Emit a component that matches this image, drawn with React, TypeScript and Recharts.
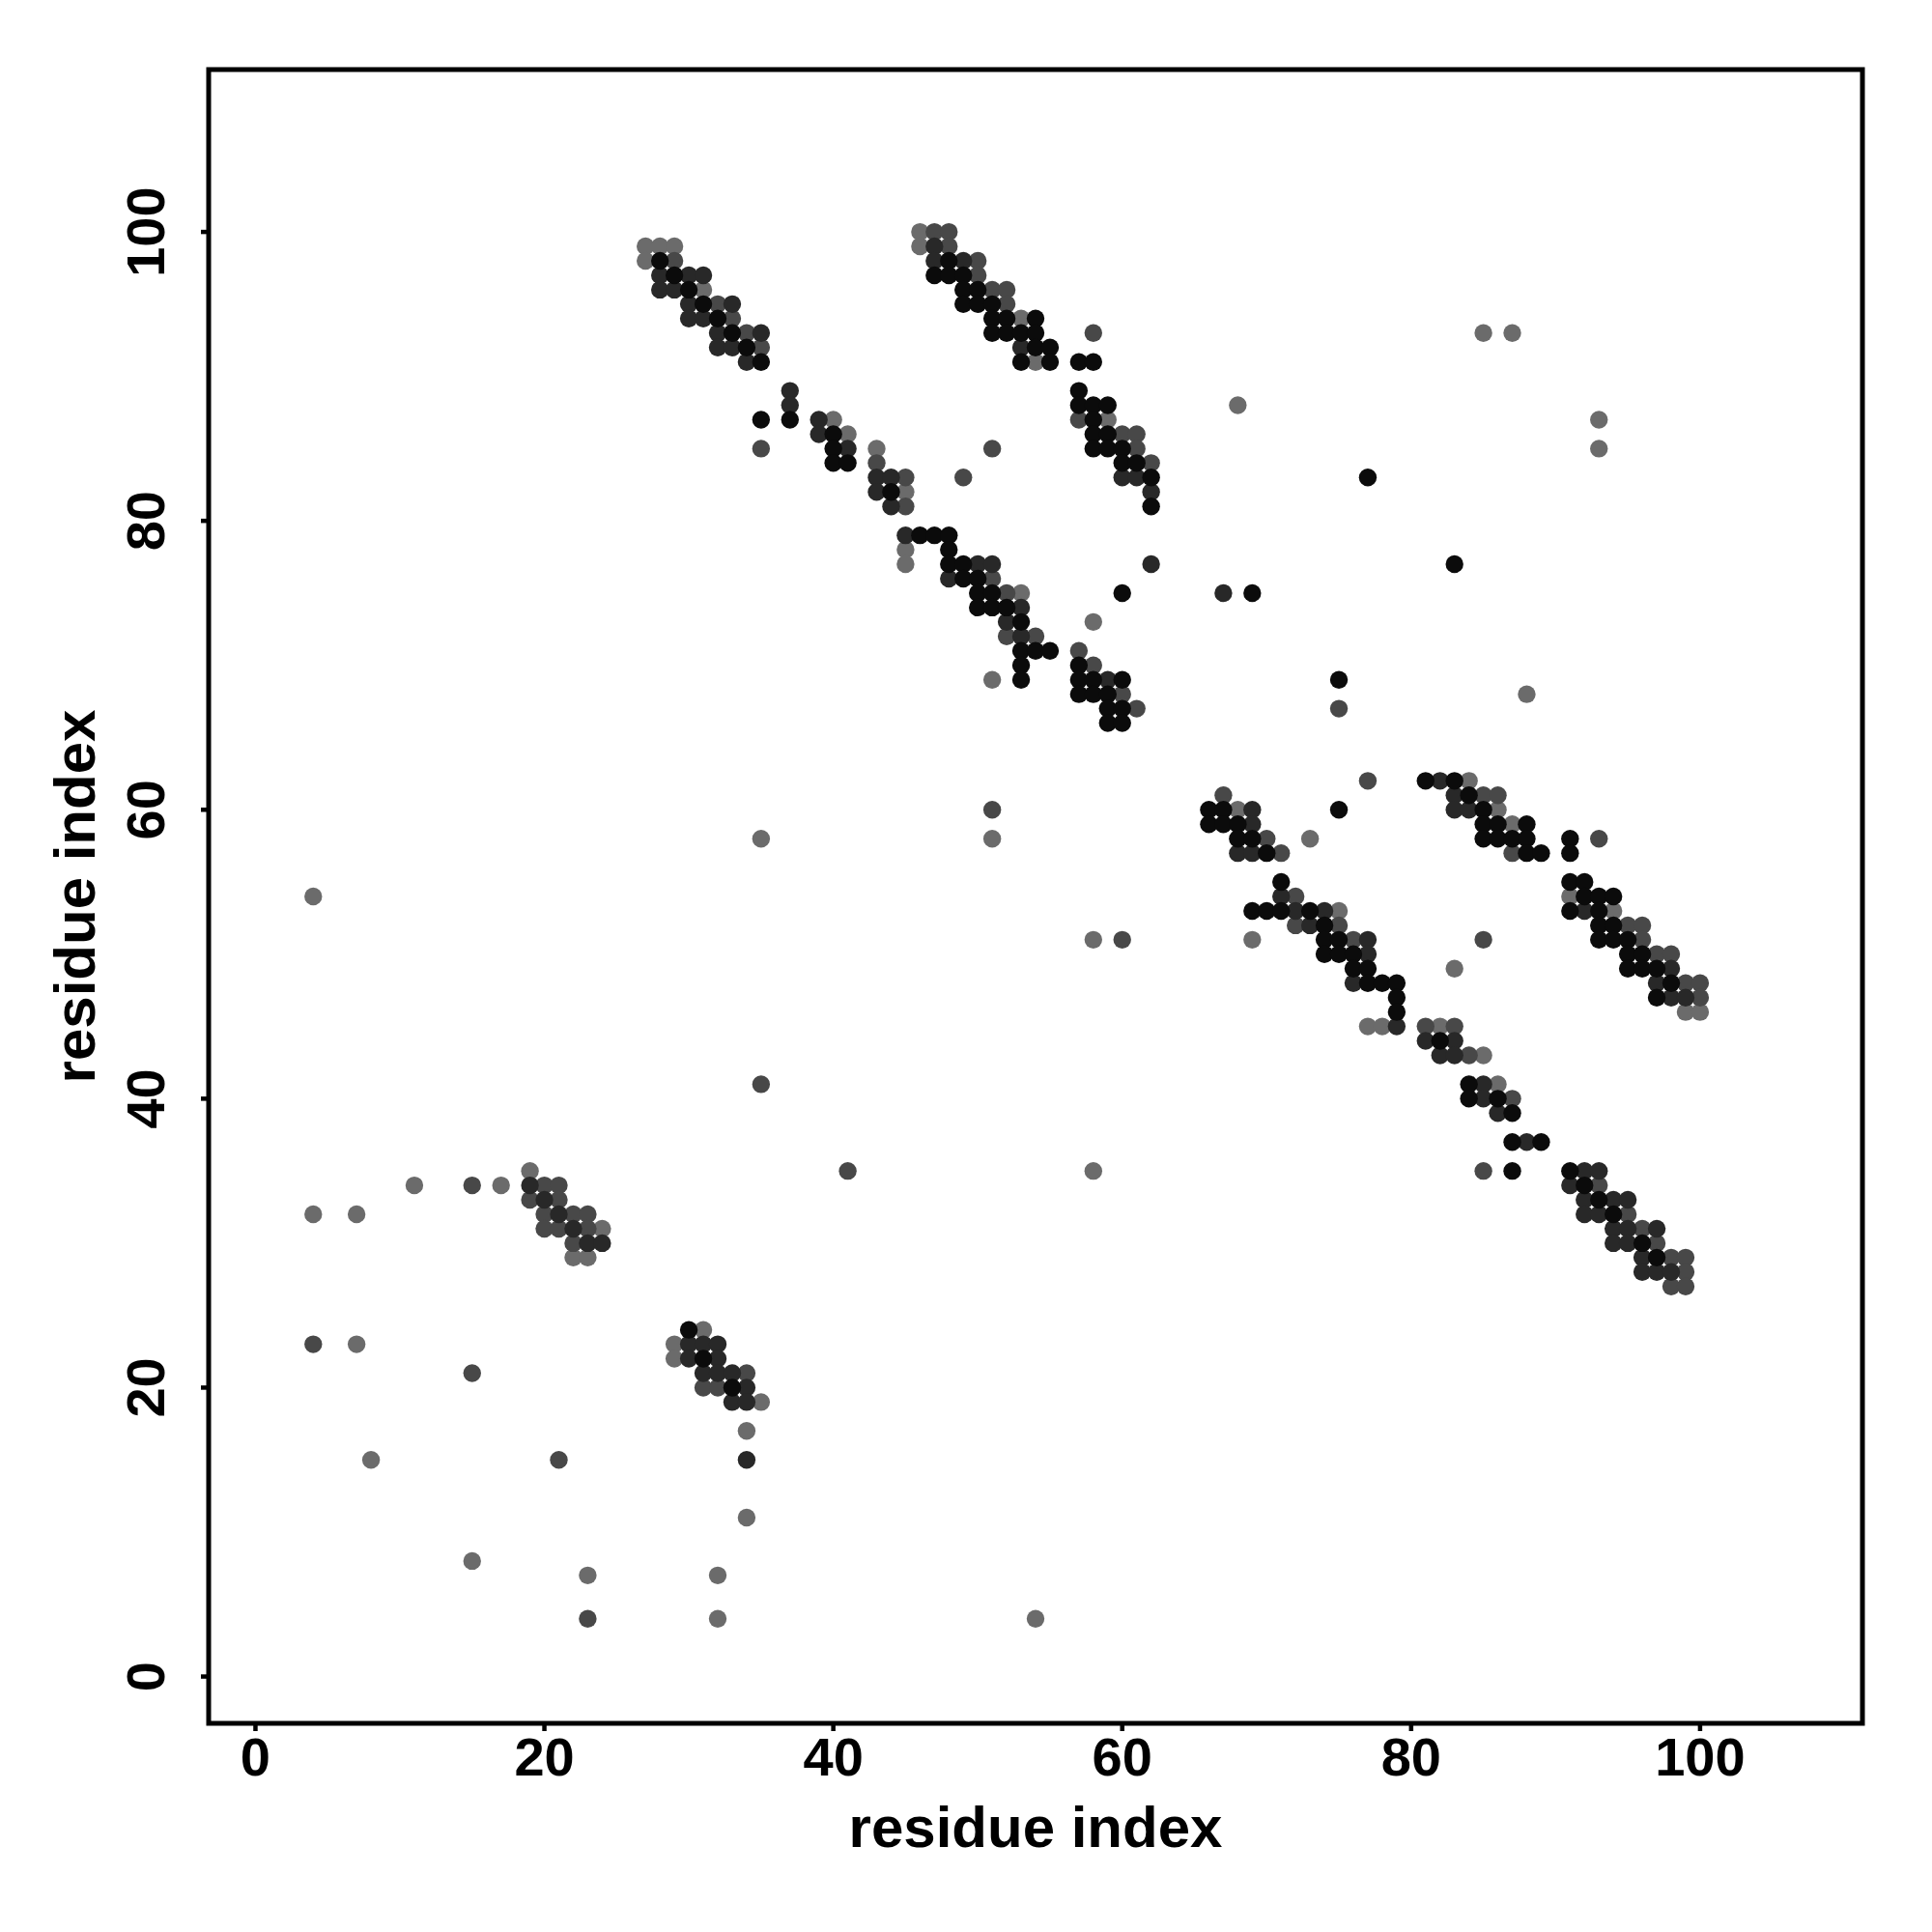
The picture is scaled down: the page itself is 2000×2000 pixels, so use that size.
import React from 'react';
import { ScatterChart, Scatter, XAxis, YAxis, ReferenceArea, Label } from 'recharts';

type P = [number, number];

// Contact map points grouped by grey shade (x = residue, y = residue)
const lightPoints: P[] = [
  [27, 99], [28, 99], [29, 99], [27, 98], [31, 96], [40, 87], [41, 86], [43, 85], [45, 82],
  [45, 78], [45, 77], [53, 75], [58, 73], [51, 69],
  [46, 100], [46, 99], [53, 94], [54, 91], [59, 87],
  [68, 60], [73, 58], [75, 53], [69, 51], [83, 49], [77, 45], [78, 45], [82, 45],
  [84, 62], [86, 60], [87, 59], [91, 54], [94, 53], [99, 46], [100, 46],
  [85, 43], [86, 41],
  [19, 35], [11, 34], [17, 34], [4, 32], [7, 32], [24, 31], [22, 29], [23, 29], [31, 24], [7, 23], [29, 23], [29, 22], [35, 19],
  [34, 17], [8, 15], [34, 11], [15, 8], [23, 7], [32, 7], [32, 4], [54, 4],
  [4, 54], [35, 58], [51, 58], [58, 51], [58, 35], [68, 88], [88, 68], [85, 93], [87, 93], [93, 87], [93, 85],
];

const midPoints: P[] = [
  [29, 98], [32, 95], [33, 94], [34, 93], [35, 92], [45, 83], [43, 84], [45, 81], [35, 85],
  [51, 76], [52, 75], [52, 72], [54, 72], [57, 71], [58, 70], [60, 68], [61, 67],
  [47, 100], [48, 100], [48, 99], [50, 98], [50, 97], [51, 96], [52, 96], [52, 95], [58, 93], [57, 87], [60, 86], [61, 86], [51, 85], [61, 85], [62, 84], [49, 83],
  [77, 62], [67, 61], [70, 58], [71, 57], [72, 54], [72, 52], [75, 52], [76, 51], [81, 45], [83, 45],
  [85, 61], [86, 61], [93, 58], [87, 57], [95, 52], [96, 52], [85, 51], [96, 51], [97, 50], [98, 50], [99, 48], [100, 48], [100, 47],
  [84, 43], [87, 40], [85, 35], [93, 34], [95, 32], [96, 31], [97, 30], [98, 29], [99, 29], [99, 28], [98, 27], [99, 27],
  [15, 34], [20, 34], [21, 34], [19, 33], [21, 33], [20, 32], [22, 32], [23, 32], [20, 31], [21, 31], [23, 31], [22, 30],
  [4, 23], [15, 21], [34, 21], [31, 20], [32, 20], [21, 15], [23, 4],
  [35, 41], [41, 35], [51, 60], [60, 51], [75, 67],
];

const darkPoints: P[] = [
  [30, 97], [31, 97], [28, 97], [28, 96], [29, 96], [30, 95], [33, 95], [30, 94], [31, 94], [32, 93], [35, 93], [32, 92], [33, 92], [34, 91],
  [37, 89], [37, 88], [39, 87], [39, 86], [41, 85], [43, 83], [44, 83], [43, 82], [44, 81],
  [45, 79], [50, 77], [51, 77], [62, 77], [48, 76], [53, 74], [52, 73], [53, 72], [59, 69],
  [47, 99], [47, 98], [49, 98], [53, 92], [60, 83], [61, 83], [62, 82],
  [82, 62], [69, 60], [69, 59], [68, 57], [69, 57], [71, 54], [72, 53], [74, 53], [73, 52], [77, 51], [77, 50], [76, 48], [79, 45],
  [83, 61], [83, 60], [84, 60], [92, 53], [98, 49], [97, 48], [98, 47], [99, 47],
  [81, 44], [83, 44], [82, 43], [83, 43], [85, 41], [85, 40], [86, 39], [88, 37], [92, 35], [93, 35], [91, 34], [92, 33], [94, 33], [95, 33], [92, 32], [93, 32], [94, 31], [95, 31], [97, 31], [94, 30], [95, 30], [96, 29], [96, 28], [97, 28], [98, 28],
  [19, 34], [20, 33], [21, 32], [22, 31], [23, 30], [24, 30],
  [30, 23], [31, 23], [32, 23], [30, 22], [32, 22], [31, 21], [32, 21], [33, 21], [34, 20], [33, 19], [34, 19], [34, 15],
  [67, 75],
];

const blackPoints: P[] = [
  [28, 98], [29, 97], [30, 96], [31, 95], [32, 94], [33, 93], [34, 92], [35, 91],
  [35, 87], [37, 87], [40, 86], [40, 85], [40, 84], [41, 84], [44, 82],
  [46, 79], [47, 79], [48, 79], [48, 78], [48, 77], [49, 77], [49, 76], [50, 76], [50, 75], [51, 75], [60, 75], [50, 74], [51, 74], [52, 74], [53, 73], [53, 71], [54, 71], [55, 71], [53, 70], [57, 70], [53, 69], [57, 69], [58, 69], [60, 69], [57, 68], [58, 68], [59, 68], [59, 67], [60, 67], [59, 66], [60, 66],
  [48, 98], [47, 97], [48, 97], [49, 97], [49, 96], [50, 96], [49, 95], [50, 95], [51, 95], [51, 94], [52, 94], [54, 94], [51, 93], [52, 93], [53, 93], [54, 93], [54, 92], [55, 92], [53, 91], [55, 91], [57, 91], [58, 91], [57, 89], [57, 88], [58, 88], [59, 88], [58, 87], [58, 86], [59, 86], [58, 85], [59, 85], [60, 85], [60, 84], [61, 84], [62, 83], [62, 81],
  [81, 62], [83, 62], [66, 60], [67, 60], [75, 60], [66, 59], [67, 59], [68, 59], [68, 58], [69, 58], [70, 57], [71, 55], [69, 53], [70, 53], [71, 53], [73, 53], [74, 52], [74, 51], [75, 51], [74, 50], [75, 50], [76, 50], [76, 49], [77, 49], [77, 48], [78, 48], [79, 48], [79, 47], [79, 46],
  [84, 61], [85, 60], [85, 59], [86, 59], [88, 59], [85, 58], [86, 58], [87, 58], [88, 58], [91, 58], [88, 57], [89, 57], [91, 57], [91, 55], [92, 55], [92, 54], [93, 54], [94, 54], [91, 53], [93, 53], [93, 52], [94, 52], [93, 51], [94, 51], [95, 51], [95, 50], [96, 50], [95, 49], [96, 49], [97, 49], [98, 48], [97, 47],
  [82, 44], [84, 41], [84, 40], [86, 40], [87, 39], [87, 37], [89, 37], [87, 35], [91, 35], [92, 34], [93, 33], [94, 32], [96, 30], [97, 29],
  [30, 24], [31, 22], [33, 20],
  [77, 83], [69, 75], [83, 77], [75, 69],
];

const ticks = [0, 20, 40, 60, 80, 100];
const domain: [number, number] = [-3.24, 111.24];
const axisTitle = 'residue index';

const FONT = '"Liberation Sans", Arial, Helvetica, sans-serif';
const SHADES = { light: '#6b6b6b', mid: '#484848', dark: '#282828', black: '#0b0b0b' };

const toRows = (pts: P[]) => pts.map(([x, y]) => ({ x, y }));

const makeDot = (color: string) => (props: any) => {
  if (props.cx == null || props.cy == null) return <g />;
  return <circle cx={props.cx} cy={props.cy} r={9.2} fill={color} />;
};

const YTick = (props: any) => {
  const { x, y, payload } = props;
  return (
    <text
      x={x}
      y={y}
      transform={`rotate(-90, ${x}, ${y})`}
      textAnchor="middle"
      fontSize={56}
      fontWeight="bold"
      fontFamily={FONT}
      fill="#000"
    >
      {payload.value}
    </text>
  );
};

const XTitle = () => (
  <text x={1072} y={1912} textAnchor="middle" fontSize={60} fontWeight="bold" fontFamily={FONT} fill="#000">
    {axisTitle}
  </text>
);

const YTitle = () => (
  <text
    x={98}
    y={928}
    transform="rotate(-90, 98, 928)"
    textAnchor="middle"
    fontSize={60}
    fontWeight="bold"
    fontFamily={FONT}
    fill="#000"
  >
    {axisTitle}
  </text>
);

export default function App() {
  return (
    <div style={{ position: 'absolute', left: 0, top: 0, width: 2000, height: 2000, background: '#fff' }}>
      <ScatterChart width={2000} height={2000} margin={{ top: 72, right: 72, left: 0, bottom: 0 }}>
        <XAxis
          type="number"
          dataKey="x"
          domain={domain}
          ticks={ticks}
          allowDataOverflow
          height={216}
          axisLine={false}
          tickSize={8}
          tickMargin={6}
          tickLine={{ stroke: '#000', strokeWidth: 4.5 }}
          tick={{ fontSize: 56, fontWeight: 'bold', fill: '#000', fontFamily: FONT }}
          interval={0}
        >
          <Label content={XTitle} />
        </XAxis>
        <YAxis
          type="number"
          dataKey="y"
          domain={domain}
          ticks={ticks}
          allowDataOverflow
          width={216}
          axisLine={false}
          tickSize={8}
          tickMargin={38}
          tickLine={{ stroke: '#000', strokeWidth: 4.5 }}
          tick={<YTick />}
          interval={0}
        >
          <Label content={YTitle} />
        </YAxis>
        <Scatter data={toRows(lightPoints)} fill={SHADES.light} shape={makeDot(SHADES.light)} isAnimationActive={false} />
        <Scatter data={toRows(midPoints)} fill={SHADES.mid} shape={makeDot(SHADES.mid)} isAnimationActive={false} />
        <Scatter data={toRows(darkPoints)} fill={SHADES.dark} shape={makeDot(SHADES.dark)} isAnimationActive={false} />
        <Scatter data={toRows(blackPoints)} fill={SHADES.black} shape={makeDot(SHADES.black)} isAnimationActive={false} />
        <ReferenceArea
          x1={domain[0]}
          x2={domain[1]}
          y1={domain[0]}
          y2={domain[1]}
          fill="none"
          fillOpacity={0}
          stroke="#000"
          strokeWidth={5}
          ifOverflow="visible"
        />
      </ScatterChart>
    </div>
  );
}
